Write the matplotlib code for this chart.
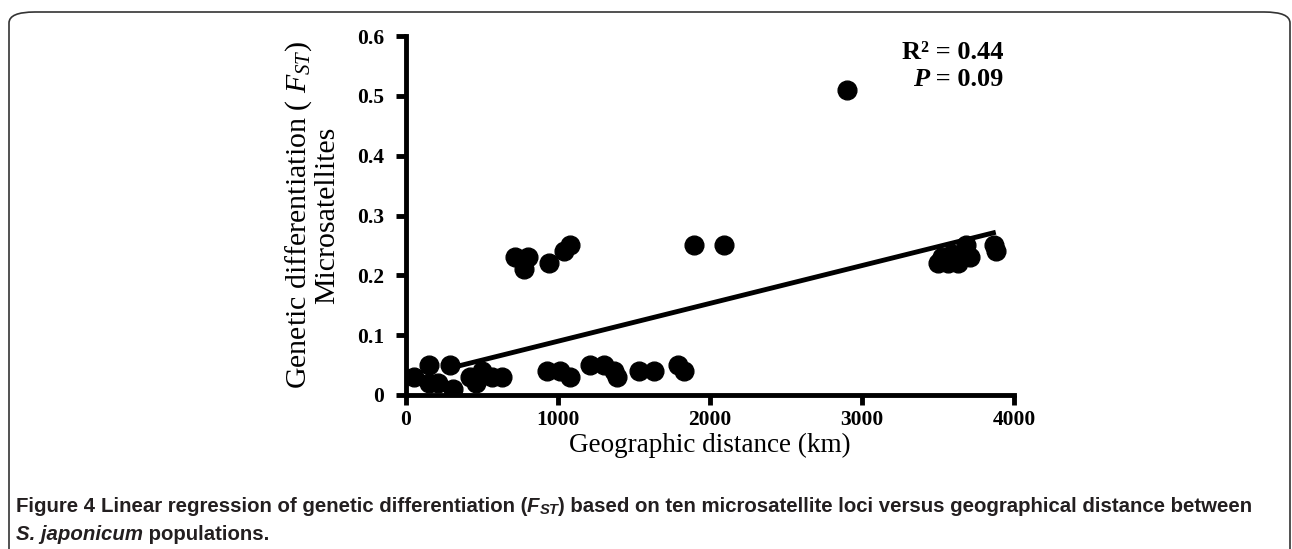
import numpy as np
import matplotlib
matplotlib.use('Agg')
import matplotlib.pyplot as plt
from matplotlib.patches import FancyBboxPatch

serif = 'Liberation Serif'
plt.rcParams['mathtext.fontset'] = 'custom'
plt.rcParams['mathtext.rm'] = serif
plt.rcParams['mathtext.it'] = serif + ':italic'
plt.rcParams['mathtext.bf'] = serif + ':bold'

# geographic distance (km) vs Fst
dist_low = [50, 150, 290, 150, 210, 310, 420, 460, 500, 566, 630,
            930, 1010, 1080, 1210, 1300, 1370, 1385, 1530, 1630, 1790, 1830]
fst_low = [0.03, 0.05, 0.05, 0.02, 0.02, 0.01, 0.03, 0.02, 0.04, 0.03, 0.03,
           0.04, 0.04, 0.03, 0.05, 0.05, 0.04, 0.03, 0.04, 0.04, 0.05, 0.04]
dist_high = [720, 800, 775, 940, 1040, 1080, 1895, 2090, 2900,
             3500, 3566, 3632, 3526, 3592, 3684, 3710, 3868, 3882]
fst_high = [0.23, 0.23, 0.21, 0.22, 0.24, 0.25, 0.25, 0.25, 0.51,
            0.22, 0.22, 0.22, 0.23, 0.235, 0.25, 0.23, 0.25, 0.24]

# regression line (ends)
fit_x = [290, 3880]
fit_y = [0.045, 0.272]

xticks = [0, 1000, 2000, 3000, 4000]
yticks = [0, 0.1, 0.2, 0.3, 0.4, 0.5, 0.6]
yticklabels = ['0', '0.1', '0.2', '0.3', '0.4', '0.5', '0.6']

fig = plt.figure(figsize=(12.92, 5.49), dpi=100)
ax = fig.add_axes([406 / 1292, 1 - 395 / 549, (1014 - 406) / 1292, (395 - 36) / 549])

x = dist_low + dist_high
y = fst_low + fst_high
ax.plot(x, y, 'o', color='black', ms=13.5, mec='black', zorder=3)
ax.plot(fit_x, fit_y, color='black', lw=3.5, solid_capstyle='butt', zorder=2)

ax.set_xlim(0, 4000)
ax.set_ylim(0, 0.6)
ax.set_xticks(xticks)
ax.set_yticks(yticks)
ax.set_yticklabels(yticklabels)
for s in ['top', 'right']:
    ax.spines[s].set_visible(False)
for s in ['left', 'bottom']:
    ax.spines[s].set_linewidth(3.5)
ax.tick_params(direction='out', length=7, width=3.5)
ax.tick_params(axis='y', pad=9)
ax.tick_params(axis='x', pad=4)
for lab in ax.get_xticklabels() + ax.get_yticklabels():
    lab.set_fontfamily(serif)
    lab.set_fontweight('bold')
    lab.set_fontsize(15.5)

ax.set_xlabel('Geographic distance (km)', fontfamily=serif, fontsize=19.5, labelpad=2)
ax.set_ylabel('Genetic differentiation ( $\\mathit{F}_{\\mathit{ST}}$)\nMicrosatellites',
              fontfamily=serif, fontsize=21.5, labelpad=12, linespacing=1.0)

ax.text(3930, 0.572, 'R² = 0.44', ha='right', va='center', fontfamily=serif,
        fontweight='bold', fontsize=19)
t = ax.text(3930, 0.528, ' = 0.09', ha='right', va='center', fontfamily=serif,
            fontweight='bold', fontsize=19)
fig.canvas.draw()
rend = fig.canvas.get_renderer()
bb = t.get_window_extent(rend)
xp = ax.transData.inverted().transform((bb.x0, 0))[0]
ax.text(xp, 0.528, 'P', ha='right', va='center', fontfamily=serif,
        fontweight='bold', fontstyle='italic', fontsize=19)

# caption, written piece by piece so bold / italic / subscript can mix
cap_font = ['Liberation Sans Narrow', 'Liberation Sans', 'DejaVu Sans']
cap_col = '#231f20'
cap_size = 14.7


def caption_line(x0, ypix, pieces):
    xx = x0
    for txt, style, sub in pieces:
        size = cap_size * 0.72 if sub else cap_size
        yy = 1 - (ypix + (4 if sub else 0)) / 549
        tt = fig.text(xx / 1292, yy, txt, fontfamily=cap_font, fontweight='bold',
                      fontstyle=style, fontsize=size, va='center', color=cap_col)
        w = tt.get_window_extent(rend).width
        xx += w


caption_line(16, 506, [('Figure 4 ', 'normal', False),
                       ('Linear regression of genetic differentiation (', 'normal', False),
                       ('F', 'italic', False), ('ST', 'italic', True),
                       (') based on ten microsatellite loci versus geographical distance between',
                        'normal', False)])
caption_line(16, 535, [('S. japonicum', 'italic', False), (' populations.', 'normal', False)])

# rounded frame around the figure
frame = FancyBboxPatch((9 / 1292, -0.05), (1290 - 9) / 1292, 1.05 - 12 / 549,
                       boxstyle='round,pad=0,rounding_size=0.02',
                       transform=fig.transFigure, fill=False, lw=1.2,
                       ec='#333333', clip_on=False)
fig.patches.append(frame)

fig.savefig('out.png', dpi=100)
